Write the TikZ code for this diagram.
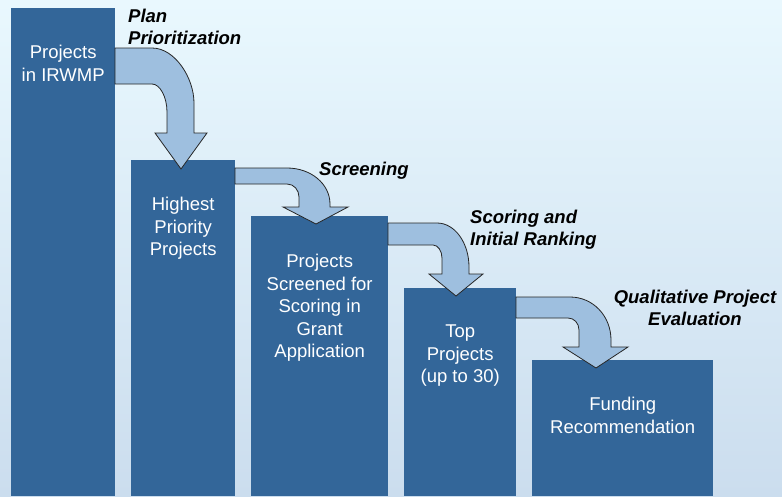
\documentclass[tikz,border=0pt]{standalone}
\usepackage{fontspec}
\setmainfont{Liberation Sans}
\usetikzlibrary{positioning}

\definecolor{bgtop}{RGB}{233,248,254}
\definecolor{bgbot}{RGB}{203,221,238}
\definecolor{barblue}{RGB}{51,102,153}
\definecolor{arrowblue}{RGB}{158,191,223}

\tikzset{
  bar/.style={fill=barblue,draw=none,anchor=north west,inner sep=0pt},
  bartext/.style={text=white,align=center,anchor=north,inner sep=0pt,
    font=\fontsize{18.5}{22.5}\selectfont},
  steplabel/.style={align=left,anchor=north west,inner sep=0pt,
    font=\fontsize{18.5}{22}\selectfont\bfseries\itshape},
  bentarrow/.style={fill=arrowblue,draw=black!85,line width=0.8pt,line join=miter}
}

\begin{document}
\begin{tikzpicture}[x=1pt,y=-1pt]
  \useasboundingbox (0,0) rectangle (782,496);
  \shade[top color=bgtop,bottom color=bgbot] (0,0) rectangle (782,496);
  % the bars, one per stage
  \node[bar,minimum width=104,minimum height=488] (P1) at (11,8)   {};
  \node[bar,minimum width=104,minimum height=336] (P2) at (131,160) {};
  \node[bar,minimum width=137,minimum height=280] (P3) at (251,216) {};
  \node[bar,minimum width=112,minimum height=208] (P4) at (404,288) {};
  \node[bar,minimum width=181,minimum height=136] (P5) at (532,360) {};
  \node[bartext] (T1) at ([yshift=-37pt]P1.north) {Projects\\in IRWMP};
  \node[bartext] (T2) at ([yshift=-37pt]P2.north) {Highest\\Priority\\Projects};
  \node[bartext] (T3) at ([yshift=-38pt]P3.north) {Projects\\Screened for\\Scoring in\\Grant\\Application};
  \node[bartext] (T4) at ([yshift=-37pt]P4.north) {Top\\Projects\\(up to 30)};
  \node[bartext] (T5) at ([yshift=-37pt]P5.north) {Funding\\Recommendation};
  % bent arrows from one bar down onto the next
  \draw[bentarrow] (115,48) -- (152,48) .. controls (175,48) and (194,78) .. (194,103)
    -- (194,133) -- (207,133) -- (181,169) -- (155,133) -- (167,133) -- (167,112)
    .. controls (167,97) and (160,84) .. (152,84) -- (115,84) -- cycle;
  \draw[bentarrow] (235,168) -- (287,168) .. controls (311,168) and (330,184) .. (330,204)
    -- (330,207) -- (348,207) -- (316,224) -- (283,207) -- (299,207) -- (299,197)
    .. controls (299,190) and (294,184) .. (287,184) -- (235,184) -- cycle;
  \draw[bentarrow] (388,223) -- (437,223) .. controls (455,223) and (469,243) .. (469,267)
    -- (469,274) -- (483,274) -- (456,296) -- (429,274) -- (442,274) -- (442,258)
    .. controls (442,251) and (438,245) .. (433,245) -- (388,245) -- cycle;
  \draw[bentarrow] (516,297) -- (570,297) .. controls (593,297) and (611,316) .. (611,340)
    -- (611,347) -- (628,347) -- (596,368) -- (563,347) -- (579,347) -- (579,330)
    .. controls (579,323) and (574,318) .. (568,318) -- (516,318) -- cycle;
  % step labels
  \node[steplabel] (L1) at (128,9)   {Plan\\Prioritization};
  \node[steplabel] (L2) at (319,162) {Screening};
  \node[steplabel] (L3) at (470,210) {Scoring and\\Initial Ranking};
  \node[steplabel,align=center,anchor=north] (L4) at (695,290) {Qualitative Project\\Evaluation};
\end{tikzpicture}
\end{document}
